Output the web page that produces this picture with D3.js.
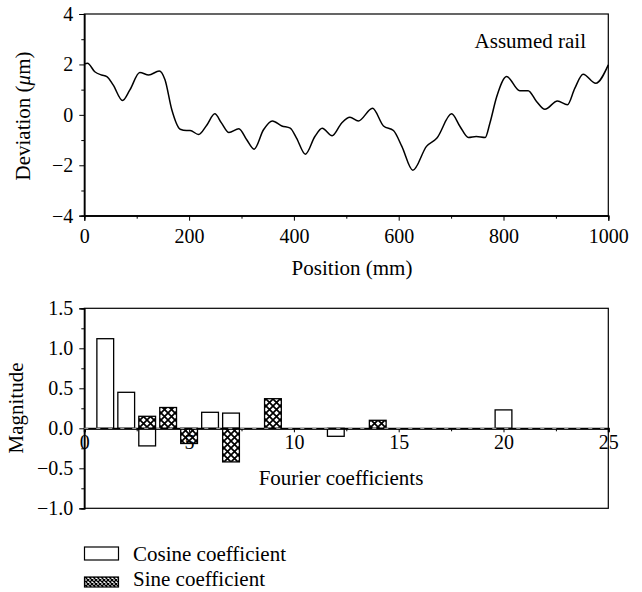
<!DOCTYPE html>
<html>
<head>
<meta charset="utf-8">
<script src="https://cdn.jsdelivr.net/npm/d3@7"></script>
<style>
  body { margin: 0; background: #fff; }
  svg { font-family: "Liberation Serif", "Times New Roman", serif; }
  .tick text { font-family: "Liberation Serif", "Times New Roman", serif; font-size: 20px; fill: #000; }
</style>
</head>
<body>
<div id="chart"></div>
<script>
// rail profile
var positions = [0, 6, 20, 33, 43, 55, 73, 87, 106, 123, 143, 154, 167, 183, 195, 202, 218, 234, 249, 262,
  276, 295, 310, 324, 342, 359, 377, 393, 405, 422, 440, 454, 473, 491, 507, 523, 550, 571, 590, 606,
  627, 653, 673, 701, 717, 733, 748, 765, 774, 787, 806, 831, 847, 863, 879, 903, 922, 936, 952, 976, 1000];
var deviation = [2.02, 2.05, 1.71, 1.58, 1.52, 1.19, 0.57, 0.99, 1.68, 1.58, 1.74, 1.39, 0.2, -0.57, -0.62, -0.62, -0.78, -0.40, 0.04, -0.33,
  -0.70, -0.55, -0.99, -1.36, -0.59, -0.24, -0.44, -0.53, -0.92, -1.56, -0.86, -0.53, -0.83, -0.33, -0.10, -0.24, 0.26, -0.44, -0.62, -1.25,
  -2.2, -1.25, -0.92, 0.04, -0.46, -0.9, -0.86, -0.9, -0.33, 0.72, 1.52, 0.96, 0.96, 0.53, 0.22, 0.55, 0.4, 1.05, 1.61, 1.25, 1.98];

// Fourier coefficients (lower panel)
var cosIndex = [1, 2, 3, 6, 7, 12, 20];
var cosValue = [1.12, 0.45, -0.22, 0.20, 0.19, -0.10, 0.23];
var sinIndex = [3, 4, 5, 7, 9, 14];
var sinValue = [0.15, 0.26, -0.19, -0.42, 0.37, 0.10];

var topXTicks = [0, 200, 400, 600, 800, 1000];
var topYTicks = [-4, -2, 0, 2, 4];
var botXTicks = [0, 5, 10, 15, 20, 25];
var botYTicks = [-1.0, -0.5, 0.0, 0.5, 1.0, 1.5];
var legendLabels = ["Cosine coefficient", "Sine coefficient"];

var width = 642, height = 592;
var left = 84.3, right = 608.3;

var svg = d3.select("#chart").append("svg")
  .attr("width", width)
  .attr("height", height);

// crosshatch pattern for sine bars
var defs = svg.append("defs");
function hatch(id, s, w) {
  var p = defs.append("pattern")
    .attr("id", id)
    .attr("patternUnits", "userSpaceOnUse")
    .attr("width", s).attr("height", s);
  p.append("rect").attr("width", s).attr("height", s).attr("fill", "#fff");
  p.append("path")
    .attr("d", "M0,0L" + s + "," + s + "M" + s + ",0L0," + s)
    .attr("stroke", "#000").attr("stroke-width", w);
}
hatch("xhatch", 7, 1.7);
hatch("xhatchSmall", 4, 1.3);

// ---------- upper panel ----------
var x1 = d3.scaleLinear().domain([0, 1000]).range([left, right]);
var y1 = d3.scaleLinear().domain([-4, 4]).range([215.7, 14]);

var g1 = svg.append("g");

g1.append("rect")
  .attr("x", left).attr("y", 14)
  .attr("width", right - left).attr("height", 215.7 - 14)
  .attr("fill", "none").attr("stroke", "#000").attr("stroke-width", 1.2);

g1.append("g").attr("transform", "translate(0,215.7)")
  .call(d3.axisBottom(x1).tickValues(topXTicks).tickSize(5).tickPadding(8).tickFormat(d3.format("d")));
g1.append("g").attr("transform", "translate(0,215.7)")
  .call(d3.axisBottom(x1).tickValues(d3.range(100, 1000, 200)).tickSize(3).tickFormat(""));

g1.append("g").attr("transform", "translate(" + left + ",0)")
  .call(d3.axisLeft(y1).tickValues(topYTicks).tickSize(5).tickPadding(6)
    .tickFormat(function(d) { return d < 0 ? "\u2212" + Math.abs(d) : d; }));
g1.append("g").attr("transform", "translate(" + left + ",0)")
  .call(d3.axisLeft(y1).tickValues([-3, -1, 1, 3]).tickSize(3).tickFormat(""));

var line = d3.line()
  .x(function(d, i) { return x1(positions[i]); })
  .y(function(d) { return y1(d); })
  .curve(d3.curveMonotoneX);

g1.append("path")
  .datum(deviation)
  .attr("d", line)
  .attr("fill", "none")
  .attr("stroke", "#000")
  .attr("stroke-width", 1.5);

g1.append("text")
  .attr("x", 586).attr("y", 48)
  .attr("text-anchor", "end")
  .attr("font-size", "21px")
  .text("Assumed rail");

g1.append("text")
  .attr("x", 352).attr("y", 275)
  .attr("text-anchor", "middle")
  .attr("font-size", "21px")
  .text("Position (mm)");

var yl = g1.append("text")
  .attr("transform", "translate(30,116) rotate(-90)")
  .attr("text-anchor", "middle")
  .attr("font-size", "21px");
yl.append("tspan").text("Deviation (");
yl.append("tspan").attr("font-style", "italic").text("\u03bc");
yl.append("tspan").text("m)");

// ---------- lower panel ----------
var x2 = d3.scaleLinear().domain([0, 25]).range([left, right]);
var y2 = d3.scaleLinear().domain([-1, 1.5]).range([508.3, 308.3]);
var barW = x2(0.8) - x2(0);

var g2 = svg.append("g");

g2.append("rect")
  .attr("x", left).attr("y", 308.3)
  .attr("width", right - left).attr("height", 200)
  .attr("fill", "none").attr("stroke", "#000").attr("stroke-width", 1.2);

g2.append("g").attr("transform", "translate(" + left + ",0)")
  .call(d3.axisLeft(y2).tickValues(botYTicks).tickSize(5).tickPadding(6)
    .tickFormat(function(d) { var s = d3.format(".1f")(Math.abs(d)); return d < 0 ? "\u2212" + s : s; }));
g2.append("g").attr("transform", "translate(" + left + ",0)")
  .call(d3.axisLeft(y2).tickValues([-0.75, -0.25, 0.25, 0.75, 1.25]).tickSize(3).tickFormat(""));

// cosine bars
g2.selectAll(".cos")
  .data(cosValue)
  .enter().append("rect")
  .attr("class", "cos")
  .attr("x", function(d, i) { return x2(cosIndex[i]) - barW / 2; })
  .attr("y", function(d) { return y2(Math.max(0, d)); })
  .attr("width", barW)
  .attr("height", function(d) { return Math.abs(y2(d) - y2(0)); })
  .attr("fill", "#fff")
  .attr("stroke", "#000")
  .attr("stroke-width", 1.3);

// sine bars
g2.selectAll(".sin")
  .data(sinValue)
  .enter().append("rect")
  .attr("class", "sin")
  .attr("x", function(d, i) { return x2(sinIndex[i]) - barW / 2; })
  .attr("y", function(d) { return y2(Math.max(0, d)); })
  .attr("width", barW)
  .attr("height", function(d) { return Math.abs(y2(d) - y2(0)); })
  .attr("fill", "url(#xhatch)")
  .attr("stroke", "#000")
  .attr("stroke-width", 1.3);

// zero axis
var xAxis2 = g2.append("g").attr("transform", "translate(0," + y2(0) + ")")
  .call(d3.axisBottom(x2).tickValues(botXTicks).tickSize(4).tickPadding(3).tickFormat(d3.format("d")));
g2.append("g").attr("transform", "translate(0," + y2(0) + ")")
  .call(d3.axisBottom(x2).tickValues(d3.range(2.5, 25, 5)).tickSize(3).tickFormat(""));
g2.append("line")
  .attr("x1", left).attr("x2", right)
  .attr("y1", y2(0)).attr("y2", y2(0))
  .attr("stroke", "#999").attr("stroke-width", 1.2)
  .attr("stroke-dasharray", "4,8");

g2.append("text")
  .attr("x", 341).attr("y", 485)
  .attr("text-anchor", "middle")
  .attr("font-size", "21px")
  .text("Fourier coefficients");

g2.append("text")
  .attr("transform", "translate(23,408) rotate(-90)")
  .attr("text-anchor", "middle")
  .attr("font-size", "21px")
  .text("Magnitude");

// axis line styling
svg.selectAll(".domain, .tick line").attr("stroke", "#000");
svg.selectAll(".domain").attr("stroke-width", 1.2);
xAxis2.select(".domain").attr("stroke-width", 2);

// ---------- legend ----------
var legend = svg.append("g");
var legendFill = ["#fff", "url(#xhatchSmall)"];
var legendY = [547, 577];
legend.selectAll("rect")
  .data(legendLabels)
  .enter().append("rect")
  .attr("x", 84.5)
  .attr("y", function(d, i) { return legendY[i]; })
  .attr("width", 34)
  .attr("height", function(d, i) { return i === 0 ? 13 : 10; })
  .attr("fill", function(d, i) { return legendFill[i]; })
  .attr("stroke", "#000")
  .attr("stroke-width", 1.2);
legend.selectAll("text")
  .data(legendLabels)
  .enter().append("text")
  .attr("x", 133)
  .attr("y", function(d, i) { return i === 0 ? 561 : 586; })
  .attr("font-size", "21px")
  .text(function(d) { return d; });
</script>
</body>
</html>
